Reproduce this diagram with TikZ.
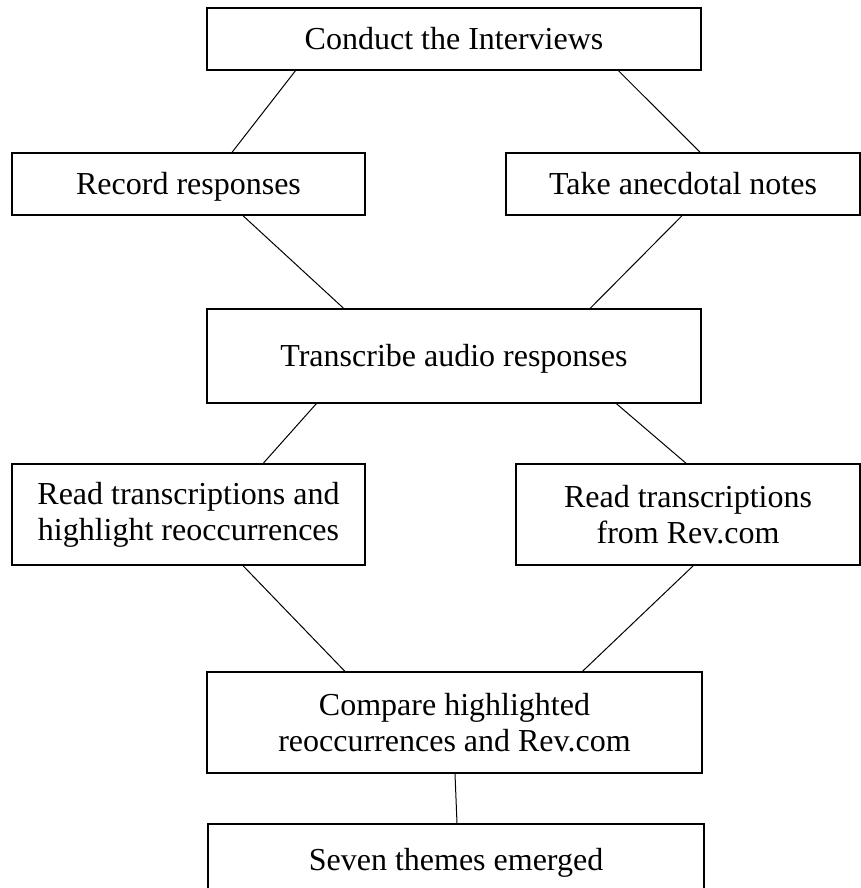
\documentclass[tikz,border=0pt]{standalone}
\usepackage{fontspec}
\setmainfont{Liberation Serif}
\usetikzlibrary{calc}

\tikzset{
  stepbox/.style={draw, rectangle, line width=0.8pt, align=center, inner sep=0pt,
    font=\fontsize{16}{18}\selectfont},
  oneline/.style={text height=1.05em, text depth=0em},
  link/.style={line width=0.5pt}
}

\begin{document}
\begin{tikzpicture}[x=0.5pt, y=-0.5pt]
  \useasboundingbox (0,0) rectangle (861,888);
  % boxes, centres given in pixels of the scan (y grows downwards)
  \node[stepbox, oneline, minimum width=247pt, minimum height=31pt] (conduct) at (454,39) {Conduct the Interviews};
  \node[stepbox, oneline, minimum width=176.5pt, minimum height=31pt] (record) at (188.5,184) {Record responses};
  \node[stepbox, oneline, minimum width=177pt, minimum height=31pt] (notes) at (683,184) {Take anecdotal notes};
  \node[stepbox, oneline, minimum width=247pt, minimum height=47pt] (transcribe) at (454,356) {Transcribe audio responses};
  \node[stepbox, minimum width=176.5pt, minimum height=50.5pt] (readhl) at (188.5,514.5) {Read transcriptions and\\highlight reoccurrences};
  \node[stepbox, minimum width=172pt, minimum height=50.5pt] (readrev) at (688,514.5) {Read transcriptions\\from Rev.com};
  \node[stepbox, minimum width=247.5pt, minimum height=50.5pt] (compare) at (454.5,722.5) {Compare highlighted\\reoccurrences and Rev.com};
  \node[stepbox, oneline, minimum width=248pt, minimum height=36pt] (seven) at (456,860) {Seven themes emerged};
  % connectors, end points as fractions along the box edges
  \draw[link] ($(conduct.south west)!0.18!(conduct.south east)$) -- ($(record.north west)!0.623!(record.north east)$);
  \draw[link] ($(conduct.south west)!0.832!(conduct.south east)$) -- ($(notes.north west)!0.548!(notes.north east)$);
  \draw[link] ($(record.south west)!0.654!(record.south east)$) -- ($(transcribe.north west)!0.277!(transcribe.north east)$);
  \draw[link] ($(notes.south west)!0.497!(notes.south east)$) -- ($(transcribe.north west)!0.775!(transcribe.north east)$);
  \draw[link] ($(transcribe.south west)!0.222!(transcribe.south east)$) -- ($(readhl.north west)!0.711!(readhl.north east)$);
  \draw[link] ($(transcribe.south west)!0.828!(transcribe.south east)$) -- ($(readrev.north west)!0.494!(readrev.north east)$);
  \draw[link] ($(readhl.south west)!0.654!(readhl.south east)$) -- ($(compare.north west)!0.279!(compare.north east)$);
  \draw[link] ($(readrev.south west)!0.515!(readrev.south east)$) -- ($(compare.north west)!0.758!(compare.north east)$);
  \draw[link] ($(compare.south west)!0.501!(compare.south east)$) -- ($(seven.north west)!0.502!(seven.north east)$);
\end{tikzpicture}
\end{document}
